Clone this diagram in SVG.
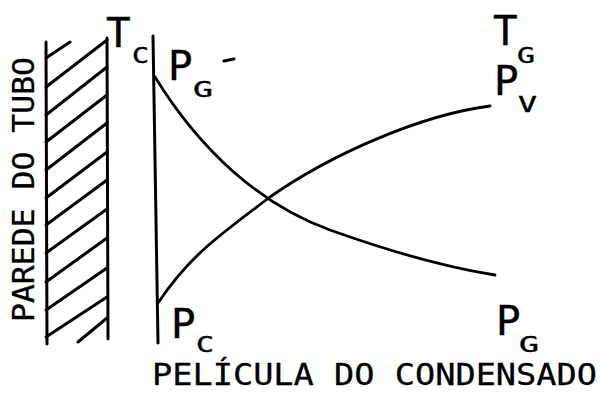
<svg xmlns="http://www.w3.org/2000/svg" width="600" height="403" viewBox="0 0 600 403">
<style>
.ln{stroke:#000;stroke-width:3;fill:none;stroke-linecap:round}
.cv{stroke:#000;stroke-width:2.8;fill:none;stroke-linecap:round}
.big{font-family:"DejaVu Sans Mono","Liberation Mono",monospace;font-size:41px;fill:#000;stroke:#000;stroke-width:0.4}
.sub{font-family:"DejaVu Sans Mono","Liberation Mono",monospace;font-size:22px;fill:#000;stroke:#000;stroke-width:0.4}
.lab{font-family:"DejaVu Sans Mono","Liberation Mono",monospace;font-size:30px;fill:#000;stroke:#000;stroke-width:0.3}
</style>
<rect width="600" height="403" fill="#fff"/>
<g id="wall">
<line class="ln" x1="46" y1="42" x2="47" y2="344"/>
<line class="ln" x1="107" y1="38" x2="108" y2="339"/>
<g class="ln">
<line x1="46" y1="58" x2="70" y2="42"/>
<line x1="46" y1="87" x2="107" y2="40"/>
<line x1="46" y1="115" x2="107" y2="67"/>
<line x1="46" y1="142" x2="107" y2="95"/>
<line x1="46" y1="170" x2="107" y2="123"/>
<line x1="46" y1="198" x2="107" y2="152"/>
<line x1="46" y1="225" x2="107" y2="180"/>
<line x1="46" y1="253" x2="107" y2="209"/>
<line x1="46" y1="282" x2="107" y2="238"/>
<line x1="46" y1="310" x2="107" y2="268"/>
<line x1="46" y1="337" x2="107" y2="297"/>
<line x1="78" y1="342" x2="107" y2="318"/>
</g>
<text class="lab" transform="translate(34,322) rotate(-90)" textLength="265" lengthAdjust="spacingAndGlyphs" font-size="26">PAREDE DO TUBO</text>
</g>
<g id="film">
<line class="ln" x1="153" y1="36" x2="158" y2="343"/>
<text class="lab" x="152" y="385" textLength="445" lengthAdjust="spacingAndGlyphs">PELÍCULA DO CONDENSADO</text>
</g>
<g id="curves">
<path id="curve-pg" class="cv" d="M155,77 C200,150 260,205 330,230 C400,255 450,268 495,275"/>
<path id="curve-pv" class="cv" d="M158,303 C190,255 220,235 270,197 C330,155 420,115 490,106"/>
</g>
<g id="label-tc">
<text class="big" x="106" y="47">T</text>
<text class="sub" x="132" y="63" textLength="17" lengthAdjust="spacingAndGlyphs">C</text>
</g>
<g id="label-pg-top">
<text class="big" x="168" y="80">P</text>
<text class="sub" x="193" y="97" textLength="20" lengthAdjust="spacingAndGlyphs">G</text>
<line class="ln" x1="224" y1="61" x2="234" y2="59" stroke-width="2.5"/>
</g>
<g id="label-pc">
<text class="big" x="171" y="338">P</text>
<text class="sub" x="196" y="352" textLength="18" lengthAdjust="spacingAndGlyphs">C</text>
</g>
<g id="label-tg-pv">
<text class="big" x="493" y="45">T</text>
<text class="sub" x="517" y="63" textLength="18" lengthAdjust="spacingAndGlyphs">G</text>
<text class="big" x="494" y="95">P</text>
<text class="sub" x="518" y="112" textLength="19" lengthAdjust="spacingAndGlyphs">V</text>
</g>
<g id="label-pg-bottom">
<text class="big" x="496" y="335">P</text>
<text class="sub" x="519" y="352" textLength="20" lengthAdjust="spacingAndGlyphs">G</text>
</g>
</svg>
